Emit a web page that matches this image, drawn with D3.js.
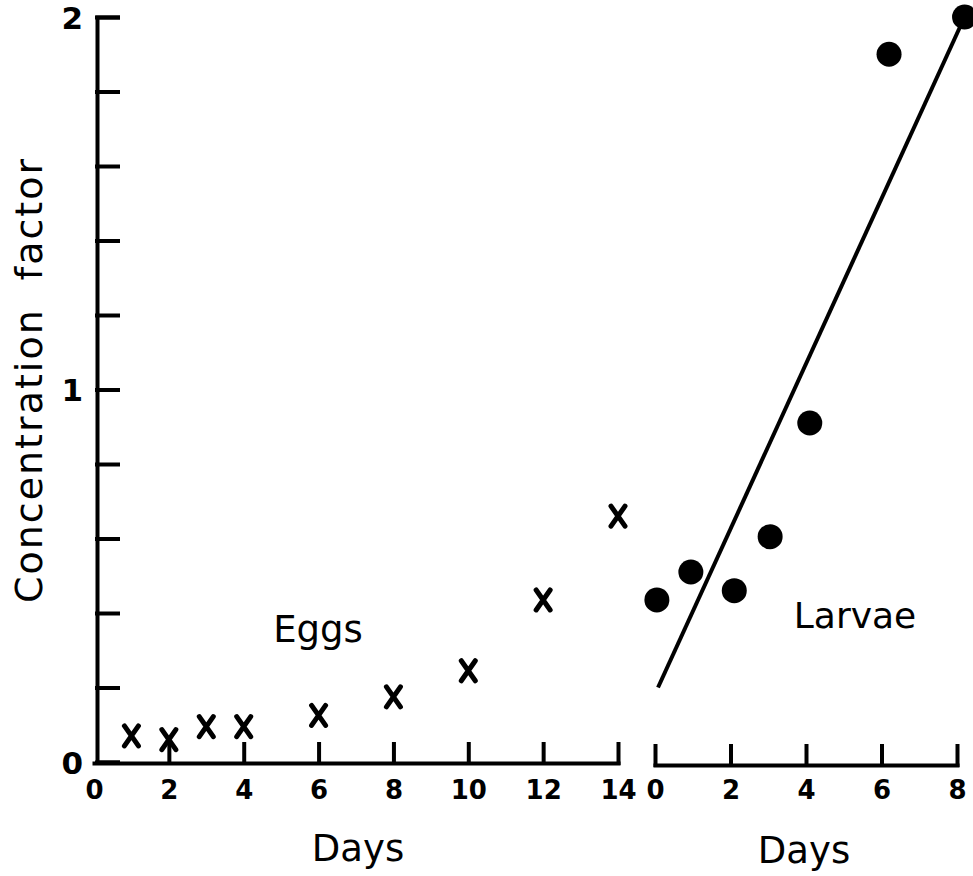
<!DOCTYPE html>
<html>
<head>
<meta charset="utf-8">
<script src="https://cdn.jsdelivr.net/npm/d3@7"></script>
<style>
  body { margin: 0; background: #fff; }
  svg { display: block; font-family: "DejaVu Sans", sans-serif; }
  .axis path, .axis line { stroke: #000; stroke-width: 4; stroke-linecap: square; }
  .axis text { font-weight: bold; fill: #000; font-family: "DejaVu Sans", sans-serif; }
</style>
</head>
<body>
<div id="chart"></div>
<script>
// eggs: days after start, concentration factor
const eggDays = [1, 2, 3, 4, 6, 8, 10, 12, 14];
const eggValues = [0.07, 0.06, 0.095, 0.095, 0.125, 0.175, 0.245, 0.435, 0.66];

// larvae: days after hatching, concentration factor
const larvaeDays = [0.05, 0.95, 2.1, 3.05, 4.1, 6.2, 8.2];
const larvaeValues = [0.435, 0.51, 0.46, 0.605, 0.91, 1.9, 2.0];

// fitted line through the larvae points (end points)
const fitDays = [0.08, 8.2];
const fitValues = [0.2, 2.0];

const yTicks = [0, 0.2, 0.4, 0.6, 0.8, 1, 1.2, 1.4, 1.6, 1.8, 2];
const yLabels = [0, 1, 2];
const eggTicks = [0, 2, 4, 6, 8, 10, 12, 14];
const larvaeTicks = [0, 2, 4, 6, 8];

const width = 973, height = 876;

const svg = d3.select("#chart").append("svg")
  .attr("width", width)
  .attr("height", height);

const y = d3.scaleLinear().domain([0, 2]).range([762, 17]);
const xEggs = d3.scaleLinear().domain([0, 14]).range([94, 618]);
const xLarvae = d3.scaleLinear().domain([0, 8]).range([655, 957]);

const axisY = 763;

// y axis, ticks pointing into the plot
svg.append("g")
  .attr("class", "axis")
  .attr("transform", "translate(97,0)")
  .call(d3.axisLeft(y)
    .tickValues(yTicks)
    .tickSize(-21)
    .tickSizeOuter(-21)
    .tickPadding(14)
    .tickFormat(d => yLabels.includes(d) ? d3.format("d")(d) : ""))
  .call(g => g.selectAll("text").attr("font-size", 31).attr("dy", "0.36em"));

// eggs axis
svg.append("g")
  .attr("class", "axis")
  .attr("transform", `translate(0,${axisY})`)
  .call(d3.axisBottom(xEggs)
    .tickValues(eggTicks)
    .tickSize(-19)
    .tickSizeOuter(0)
    .tickPadding(18))
  .call(g => g.selectAll("text").attr("font-size", 26))
  .call(g => g.selectAll(".tick line").filter(d => d === 0).remove());

// larvae axis
svg.append("g")
  .attr("class", "axis")
  .attr("transform", `translate(0,${axisY + 2})`)
  .call(d3.axisBottom(xLarvae)
    .tickValues(larvaeTicks)
    .tickSize(-19)
    .tickSizeOuter(0)
    .tickPadding(16))
  .call(g => g.selectAll("text").attr("font-size", 26));

// egg crosses
const eggData = eggDays.map((d, i) => ({ day: d, value: eggValues[i] }));
svg.append("g")
  .selectAll("path")
  .data(eggData)
  .join("path")
  .attr("transform", d => `translate(${xEggs(d.day)},${y(d.value)})`)
  .attr("d", "M-7,-10L7,10M7,-10L-7,10")
  .attr("stroke", "#000")
  .attr("stroke-width", 5)
  .attr("stroke-linecap", "round")
  .attr("fill", "none");

// fitted line for larvae
const fitData = fitDays.map((d, i) => ({ day: d, value: fitValues[i] }));
svg.append("path")
  .datum(fitData)
  .attr("d", d3.line().x(d => xLarvae(d.day)).y(d => y(d.value)))
  .attr("stroke", "#000")
  .attr("stroke-width", 4)
  .attr("fill", "none");

// larvae dots
const larvaeData = larvaeDays.map((d, i) => ({ day: d, value: larvaeValues[i] }));
svg.append("g")
  .selectAll("circle")
  .data(larvaeData)
  .join("circle")
  .attr("cx", d => xLarvae(d.day))
  .attr("cy", d => y(d.value))
  .attr("r", 12.5)
  .attr("fill", "#000");

// labels
svg.append("text")
  .attr("transform", "translate(42,380) rotate(-90)")
  .attr("text-anchor", "middle")
  .attr("font-size", 38)
  .attr("letter-spacing", 2)
  .attr("word-spacing", 14)
  .text("Concentration factor");

svg.append("text")
  .attr("x", 358).attr("y", 861)
  .attr("text-anchor", "middle")
  .attr("font-size", 37)
  .text("Days");

svg.append("text")
  .attr("x", 804).attr("y", 863)
  .attr("text-anchor", "middle")
  .attr("font-size", 37)
  .text("Days");

svg.append("text")
  .attr("x", 318).attr("y", 642)
  .attr("text-anchor", "middle")
  .attr("font-size", 37)
  .text("Eggs");

svg.append("text")
  .attr("x", 855).attr("y", 628)
  .attr("text-anchor", "middle")
  .attr("font-size", 36)
  .text("Larvae");
</script>
</body>
</html>
